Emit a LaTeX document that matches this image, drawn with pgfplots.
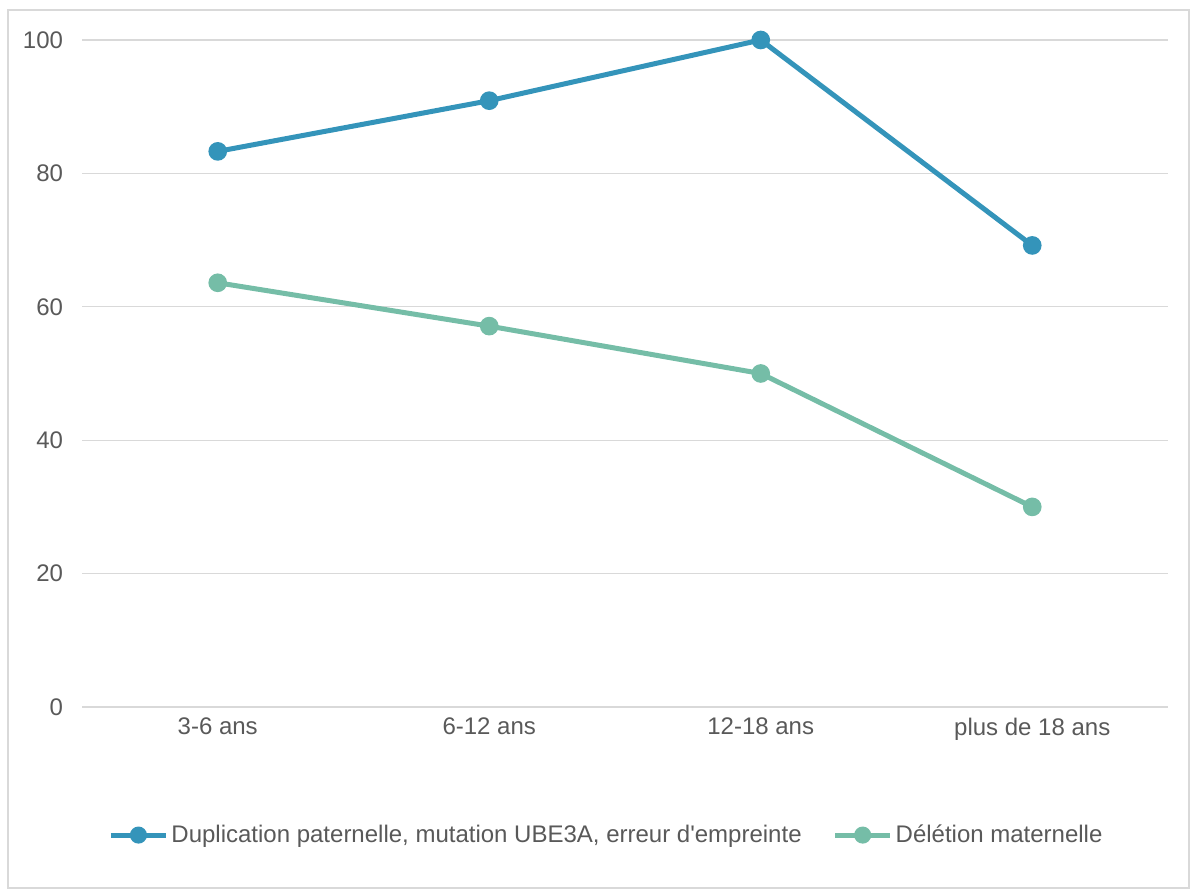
\documentclass[border=0pt]{standalone}
\usepackage{pgfplots}
\pgfplotsset{compat=1.18}
\usepackage{fontspec}
\setmainfont{Liberation Sans}
\newfontfamily\plainlib{Liberation Sans}[Ligatures=ResetAll]
\definecolor{tc}{HTML}{595959}
\definecolor{bl}{HTML}{3494BA}
\definecolor{gr}{HTML}{75BDA7}
\definecolor{gridc}{HTML}{D9D9D9}
\begin{document}
\begin{tikzpicture}
\useasboundingbox (0bp,0bp) rectangle (597.5bp,447.5bp);
\draw[gridc, line width=1bp] (4bp,3.5bp) rectangle (594.5bp,442.5bp);
\begin{axis}[at={(41bp,94bp)}, anchor=south west, scale only axis,
  width=543bp, height=333.5bp,
  xmin=-0.5, xmax=3.5, ymin=0, ymax=100,
  axis line style={draw=none},
  major tick length=0pt,
  ytick={0,20,40,60,80,100},
  xtick={0,1,2,3},
  xticklabels={3-6 ans,6-12 ans,12-18 ans,plus de 18 ans},
  ymajorgrids, grid style={gridc, line width=0.6bp},
  tick label style={font=\fontsize{12bp}{14bp}\selectfont, text=tc},
  /pgf/number format/assume math mode=true,
  yticklabel style={xshift=-6bp},
  xticklabel style={yshift=-2bp},
  clip=false,
  legend columns=2,
  legend style={at={(rel axis cs:0.4834,-0.192)}, anchor=center, draw=none,
    font=\fontsize{12bp}{14bp}\selectfont, text=tc,
    /tikz/every even column/.append style={column sep=14bp},
    nodes={inner sep=1.5bp}},
  legend image code/.code={\draw[#1, mark repeat=2, mark phase=2, mark size=3bp] plot coordinates {(0bp,0bp) (13.75bp,0bp) (27.5bp,0bp)};},
]
\addplot[bl, line width=2.5bp, mark=*, mark size=3.4bp] coordinates {(0,83.3) (1,90.9) (2,100) (3,69.2)};
\addlegendentry{Duplication paternelle, mutation UBE3A, erreur d{\plainlib\symbol{39}}empreinte}
\addplot[gr, line width=2.5bp, mark=*, mark size=3.4bp] coordinates {(0,63.6) (1,57.1) (2,50) (3,30)};
\addlegendentry{Délétion maternelle}
\end{axis}
\end{tikzpicture}
\end{document}
